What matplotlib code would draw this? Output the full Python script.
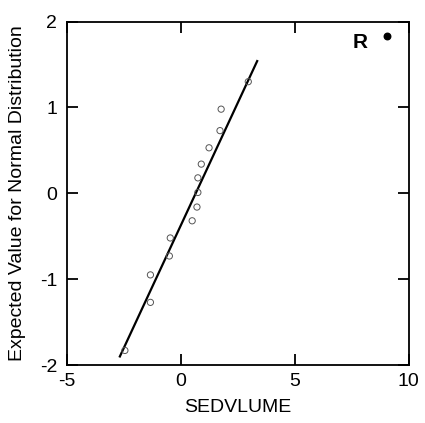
import matplotlib.pyplot as plt

plt.rcParams["font.family"] = ["Liberation Sans", "DejaVu Sans"]
plt.rcParams["axes.unicode_minus"] = False

# normal probability plot of SEDVLUME
sed = [2.96, 1.77, 1.72, 1.24, 0.90, 0.75, 0.75, 0.71, 0.50, -0.46, -0.50, -1.33, -1.33, -2.45]
expected = [1.30, 0.98, 0.73, 0.53, 0.34, 0.18, 0.01, -0.16, -0.32, -0.52, -0.73, -0.95, -1.27, -1.83]
outlier_x = [9.06]
outlier_y = [1.83]
line_x = [-2.67, 3.35]
line_y = [-1.90, 1.54]

fig = plt.figure(figsize=(4.25, 4.23), dpi=100)
ax = fig.add_axes([0.157, 0.137, 0.805, 0.812])

ax.plot(line_x, line_y, color="black", lw=1.6, zorder=2)
ax.scatter(sed, expected, s=20, facecolors="none", edgecolors="#555555", linewidths=0.7, zorder=3)
ax.scatter(outlier_x, outlier_y, s=22, color="black", zorder=3)
ax.text(outlier_x[0] - 1.2, outlier_y[0] - 0.07, "R", fontsize=15, fontweight="bold", ha="center", va="center")

ax.set_xlim(-5, 10)
ax.set_ylim(-2, 2)
ax.set_xticks([-5, 0, 5, 10])
ax.set_yticks([-2, -1, 0, 1, 2])
ax.tick_params(direction="in", length=8, width=1.3, top=True, right=True, labelsize=14)
ax.tick_params(axis="x", pad=6)
ax.tick_params(axis="y", pad=7)
for s in ax.spines.values():
    s.set_linewidth(1.3)

ax.set_xlabel("SEDVLUME", fontsize=14, labelpad=6)
ax.set_ylabel("Expected Value for Normal Distribution", fontsize=14, labelpad=10)

fig.savefig("out.png", dpi=100)
